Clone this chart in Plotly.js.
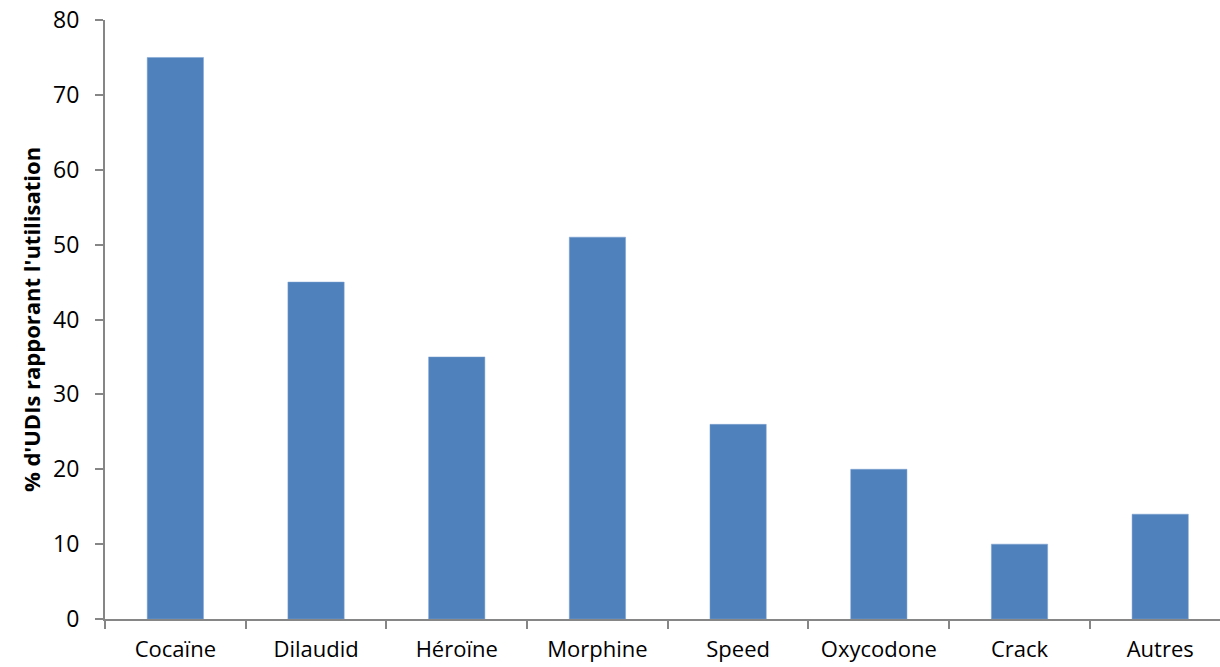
<!DOCTYPE html>
<html>
<head>
<meta charset="utf-8">
<script src="https://cdn.plot.ly/plotly-3.0.1.min.js"></script>
<style>html,body{margin:0;padding:0;background:#fff;}#chart{width:1220px;height:667px;}</style>
</head>
<body>
<div id="chart"></div>
<script>
const categories = ["Cocaïne", "Dilaudid", "Héroïne", "Morphine", "Speed", "Oxycodone", "Crack", "Autres"];
const values = [75, 45, 35, 51, 26, 20, 10, 14];
const yTicks = [0, 10, 20, 30, 40, 50, 60, 70, 80];
const yTitle = "% d'UDIs rapporant l'utilisation";

const trace = {
  type: "bar",
  x: categories,
  y: values,
  width: 0.4,
  marker: {color: "#4F81BD", line: {color: "#7FA3D0", width: 0.5}},
  hoverinfo: "x+y"
};

const layout = {
  width: 1220,
  height: 667,
  margin: {l: 105, r: 0, t: 20, b: 48, pad: 0},
  paper_bgcolor: "#fff",
  plot_bgcolor: "#fff",
  font: {family: "Open Sans, sans-serif", size: 23, color: "#000"},
  showlegend: false,
  bargap: 0.6,
  xaxis: {
    type: "category",
    range: [-0.5, 7.425],
    showline: true,
    linecolor: "#868686",
    linewidth: 2,
    ticks: "outside",
    tickson: "boundaries",
    ticklen: 8,
    tickcolor: "#868686",
    tickwidth: 2,
    ticklabelstandoff: 10,
    showgrid: false,
    zeroline: false,
    tickfont: {size: 22, color: "#000"}
  },
  yaxis: {
    range: [0, 80],
    tickvals: yTicks,
    showline: true,
    linecolor: "#868686",
    linewidth: 2,
    ticks: "outside",
    ticklen: 8,
    tickcolor: "#868686",
    tickwidth: 2,
    ticklabelstandoff: 11,
    showgrid: false,
    zeroline: false,
    tickfont: {size: 23, color: "#000"},
    title: {text: yTitle, font: {size: 22, color: "#000", family: "Open Sans, sans-serif", weight: "bold"}, standoff: 6}
  }
};

Plotly.newPlot("chart", [trace], layout, {displayModeBar: false, staticPlot: true});
</script>
</body>
</html>
